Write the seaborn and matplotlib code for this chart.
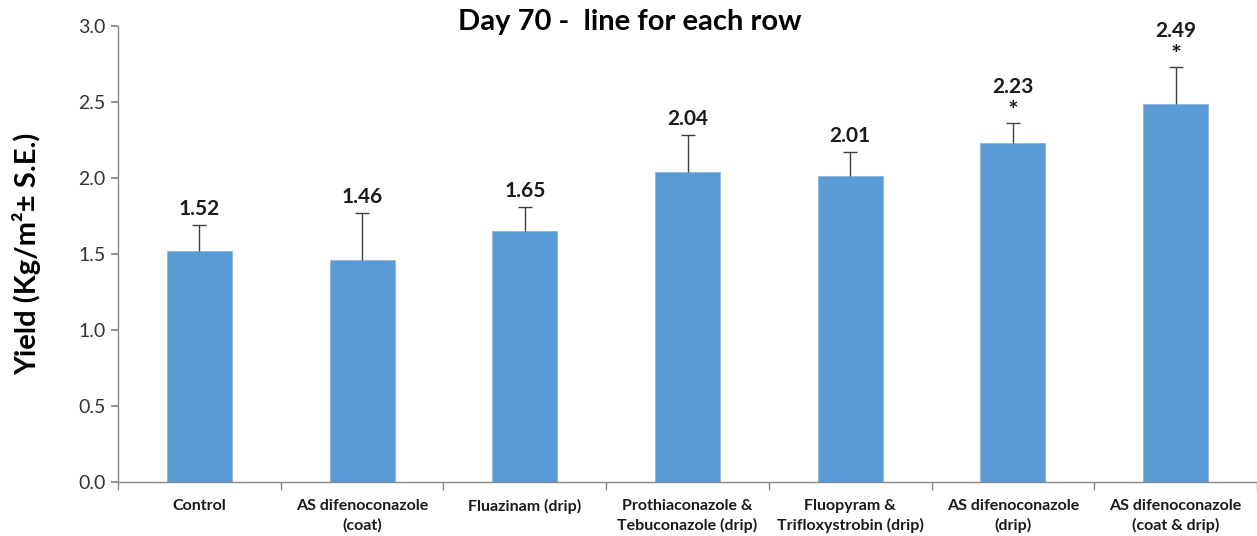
import matplotlib
matplotlib.use("Agg")
import matplotlib.pyplot as plt
import seaborn as sns
import numpy as np
import pandas as pd
from matplotlib import font_manager

categories = ["Control", "AS difenoconazole\n(coat)", "Fluazinam (drip)",
              "Prothiaconazole &\nTebuconazole (drip)", "Fluopyram &\nTrifloxystrobin (drip)",
              "AS difenoconazole\n(drip)", "AS difenoconazole\n(coat & drip)"]
yields = [1.52, 1.46, 1.65, 2.04, 2.01, 2.23, 2.49]
se = [0.17, 0.31, 0.16, 0.24, 0.16, 0.13, 0.24]
signif = ["", "", "", "", "", "*", "*"]
yticks = [0.0, 0.5, 1.0, 1.5, 2.0, 2.5, 3.0]

sns.set_theme(style="white")
avail = {f.name for f in font_manager.fontManager.ttflist}
main_font = "Lato" if "Lato" in avail else "DejaVu Sans"
plt.rcParams['font.family'] = [main_font, 'DejaVu Sans']

fig = plt.figure(figsize=(12.57, 5.36), dpi=100)
ax = fig.add_axes([118/1257, 1-482/536, 1-118/1257, (482-26)/536])

df = pd.DataFrame({"cat": categories, "y": yields})
sns.barplot(data=df, x="cat", y="y", color="#5B9BD5", width=0.4, ax=ax,
            saturation=1, edgecolor="#8fb5dd", linewidth=0.6, errorbar=None)
xs = np.arange(len(categories))
eb = ax.errorbar(xs, yields, yerr=[np.zeros(len(se)), se], fmt="none",
                 ecolor="#404040", elinewidth=1.0, capsize=5, capthick=1.0)
eb[1][0].set_visible(False)

for x, v, s, sig in zip(xs, yields, se, signif):
    top = v + s
    if sig:
        ax.text(x, top + 0.0, sig, ha="center", va="bottom", fontsize=18,
                fontweight="bold", color="#1a1a1a")
        ax.text(x, top + 0.17, f"{v:.2f}", ha="center", va="bottom", fontsize=15,
                fontweight="bold", color="#1a1a1a")
    else:
        ax.text(x, top + 0.04, f"{v:.2f}", ha="center", va="bottom", fontsize=15,
                fontweight="bold", color="#1a1a1a")

ax.set_ylim(0, 3.0)
ax.set_xlim(-0.5, 6.5 - 12/164.5)
ax.set_yticks(yticks)
ax.set_yticklabels([f"{t:.1f}" for t in yticks], fontsize=14, color="#333333")
ax.set_xticks(xs)
ax.set_xticklabels(categories, fontsize=11.5, fontweight="bold",
                   color="#1a1a1a", linespacing=1.45)
ax.tick_params(axis="x", length=0, pad=12)
ax.set_xticks(np.arange(-0.5, 7.0, 1.0), minor=True)
ax.tick_params(axis="x", which="minor", length=6, direction="out", color="#888888", bottom=True)
ax.tick_params(axis="y", length=5, direction="out", color="#888888", left=True, pad=4)
ax.set_xlabel("")
ax.set_ylabel("Yield (Kg/m²± S.E.)", fontsize=21, fontweight="bold", color="#000000",
              va="center")
ax.yaxis.set_label_coords(-(118 - 27) / (1257 - 118), 0.5)

for side in ["top", "right"]:
    ax.spines[side].set_visible(False)
for side in ["left", "bottom"]:
    ax.spines[side].set_color("#888888")
    ax.spines[side].set_linewidth(1.0)

fig.text(630/1257, 1-22/536, "Day 70 -  line for each row", ha="center", va="center",
         fontsize=21, fontweight="bold", color="#000000")

fig.savefig("out.png", dpi=100)
